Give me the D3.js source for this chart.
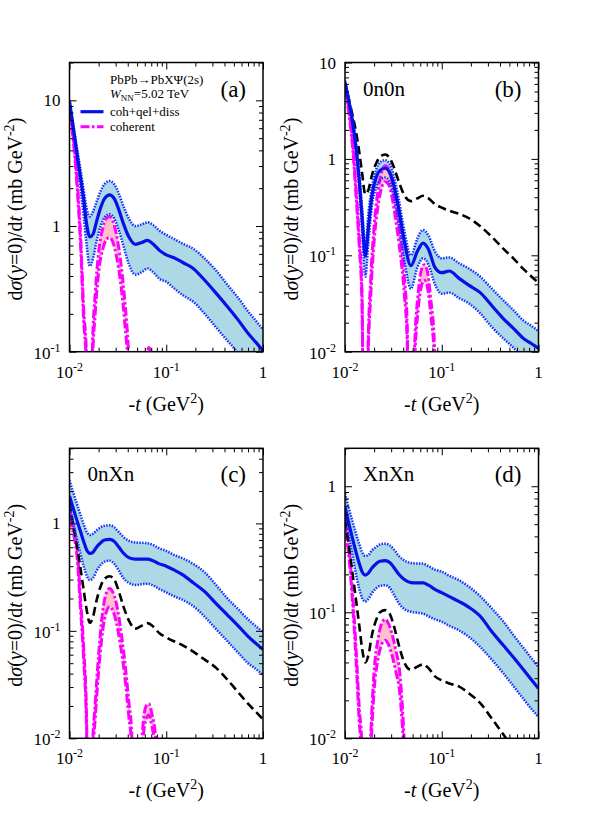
<!DOCTYPE html>
<html><head><meta charset="utf-8">
<script src="https://cdn.jsdelivr.net/npm/d3@7"></script>
<style>
body{margin:0;background:#fff}
svg text{font-family:"Liberation Serif","Times New Roman",serif;fill:#000}
</style>
</head><body>
<svg id="chart" width="608" height="829" font-family="Liberation Serif, serif"></svg>
<script>
// ---------- data ----------
const tGrid = [0.010,0.011,0.012,0.013,0.014,0.015,0.0162,0.0175,0.019,0.021,0.023,0.026,0.029,0.032,0.036,0.041,0.048,0.056,0.064,0.073,0.085,0.10,0.12,0.15,0.19,0.25,0.33,0.43,0.55,0.70,0.85,1.00];
const tCoh  = [0.0100,0.0110,0.0120,0.0130,0.0140,0.0150,0.0162,0.0172,0.0185,0.0200,0.0220,0.0240,0.0260,0.0280,0.0305,0.0335,0.0370,0.0410,0.0440,0.0470,0.0520,0.0570,0.0620,0.0660,0.0710,0.0770,0.0840,0.0900];

// (a) PbPb
const aTotal = [9.8,5.9,3.7,2.43,1.64,1.05,0.82,0.86,1.08,1.40,1.65,1.77,1.65,1.38,1.05,0.82,0.715,0.74,0.77,0.72,0.64,0.59,0.56,0.51,0.46,0.37,0.29,0.228,0.18,0.14,0.118,0.102];
const aTotalHi = [10.0,6.3,4.1,2.8,1.95,1.40,1.19,1.3,1.55,1.9,2.15,2.28,2.15,1.85,1.45,1.15,1.0,1.03,1.07,1.02,0.92,0.85,0.79,0.72,0.66,0.55,0.44,0.34,0.27,0.21,0.175,0.15];
const aTotalLo = [9.5,5.6,3.3,2.0,1.2,0.72,0.48,0.55,0.75,1.0,1.17,1.24,1.15,0.95,0.7,0.5,0.41,0.43,0.46,0.43,0.38,0.36,0.32,0.28,0.25,0.2,0.155,0.122,0.098,0.075,0.06,0.05];
const aCohHi = [8.7,5.0,2.3,0.85,0.22,0.09,1e-6,0.10,0.30,0.62,0.95,1.15,1.19,1.10,0.86,0.55,0.27,0.09,0.02,1e-6,0.01,0.05,0.085,0.108,0.09,0.05,0.012,1e-6];
const aCohLo = [8.2,4.6,2.0,0.72,0.18,0.07,1e-6,0.07,0.21,0.43,0.65,0.78,0.81,0.75,0.58,0.37,0.18,0.06,0.013,1e-6,0.007,0.034,0.058,0.074,0.062,0.034,0.008,1e-6];

// (b) 0n0n
const bTotal = [6.2,3.9,2.4,1.3,0.62,0.25,0.098,0.2,0.42,0.64,0.76,0.80,0.72,0.53,0.30,0.14,0.078,0.11,0.134,0.115,0.075,0.066,0.0687,0.058,0.049,0.041,0.03,0.0222,0.0175,0.0137,0.0121,0.0108];
const bTotalHi = [6.5,4.1,2.6,1.45,0.75,0.32,0.122,0.28,0.52,0.78,0.92,0.97,0.88,0.66,0.38,0.18,0.10,0.15,0.183,0.16,0.11,0.093,0.095,0.083,0.073,0.06,0.045,0.0344,0.027,0.021,0.0185,0.0163];
const bTotalLo = [5.9,3.7,2.2,1.15,0.5,0.18,0.06,0.14,0.33,0.5,0.6,0.64,0.57,0.41,0.22,0.09,0.045,0.075,0.093,0.08,0.05,0.04,0.041,0.036,0.0318,0.025,0.018,0.0138,0.011,0.0085,0.0072,0.0062];
const bDashed = [6.2,4.1,2.8,1.91,1.2,0.72,0.43,0.48,0.68,0.9,1.05,1.11,1.02,0.82,0.58,0.42,0.365,0.39,0.414,0.39,0.34,0.312,0.29,0.27,0.243,0.2,0.155,0.118,0.093,0.072,0.06,0.052];
const bCohHi = [5.6,3.2,1.5,0.50,0.16,0.04,1e-6,0.008,0.06,0.20,0.48,0.74,0.85,0.80,0.60,0.34,0.17,0.06,0.018,1e-6,0.009,0.04,0.072,0.08,0.068,0.035,0.012,1e-6];
const bCohLo = [5.2,2.9,1.3,0.42,0.13,0.03,1e-6,0.006,0.04,0.14,0.33,0.51,0.58,0.55,0.41,0.23,0.11,0.04,0.012,1e-6,0.006,0.027,0.049,0.055,0.047,0.024,0.008,1e-6];

// (c) 0nXn
const cTotal = [1.8,1.35,1.05,0.84,0.68,0.57,0.525,0.54,0.6,0.66,0.7,0.71,0.68,0.61,0.53,0.48,0.465,0.465,0.465,0.45,0.42,0.40,0.37,0.33,0.28,0.232,0.178,0.14,0.112,0.089,0.076,0.067];
const cTotalHi = [2.53,1.9,1.5,1.2,0.98,0.84,0.78,0.8,0.86,0.92,0.95,0.96,0.92,0.84,0.75,0.69,0.665,0.66,0.655,0.63,0.585,0.555,0.51,0.47,0.42,0.35,0.265,0.2,0.16,0.128,0.11,0.098];
const cTotalLo = [1.45,0.98,0.7,0.52,0.4,0.33,0.297,0.31,0.36,0.41,0.44,0.45,0.42,0.37,0.31,0.28,0.267,0.272,0.275,0.265,0.245,0.228,0.21,0.193,0.17,0.135,0.103,0.08,0.063,0.05,0.044,0.0388];
const cDashed = [1.55,0.93,0.6,0.38,0.24,0.16,0.119,0.135,0.19,0.26,0.305,0.322,0.3,0.24,0.17,0.125,0.105,0.112,0.118,0.11,0.095,0.087,0.08,0.073,0.064,0.054,0.045,0.035,0.027,0.021,0.0175,0.015];
const cCohHi = [1.3,0.95,0.58,0.20,0.07,0.016,1e-6,0.007,0.022,0.06,0.15,0.225,0.248,0.23,0.18,0.11,0.055,0.022,0.011,1e-6,0.002,0.012,0.02,0.021,0.017,0.011,0.003,1e-6];
const cCohLo = [1.1,0.8,0.48,0.16,0.055,0.012,1e-6,0.005,0.016,0.042,0.1,0.15,0.168,0.155,0.12,0.075,0.04,0.016,0.008,1e-6,0.0015,0.009,0.015,0.0165,0.013,0.008,0.002,1e-6];

// (d) XnXn
const dTotal = [0.685,0.5,0.38,0.3,0.245,0.21,0.197,0.205,0.225,0.243,0.254,0.257,0.248,0.227,0.2,0.182,0.172,0.171,0.171,0.164,0.152,0.143,0.133,0.122,0.11,0.093,0.07,0.055,0.044,0.035,0.029,0.0248];
const dTotalHi = [0.875,0.66,0.52,0.42,0.35,0.3,0.28,0.285,0.31,0.33,0.345,0.35,0.34,0.315,0.28,0.258,0.246,0.244,0.243,0.232,0.218,0.21,0.195,0.18,0.16,0.134,0.107,0.085,0.066,0.052,0.043,0.0368];
const dTotalLo = [0.59,0.4,0.28,0.2,0.155,0.13,0.122,0.128,0.142,0.155,0.162,0.164,0.156,0.138,0.118,0.106,0.101,0.099,0.0975,0.093,0.088,0.084,0.078,0.072,0.064,0.053,0.042,0.033,0.026,0.0205,0.017,0.0148];
const dDashed = [0.537,0.33,0.2,0.125,0.08,0.052,0.04,0.046,0.066,0.087,0.1,0.104,0.097,0.078,0.055,0.04,0.035,0.037,0.0387,0.036,0.031,0.0288,0.0272,0.0258,0.0228,0.019,0.0143,0.0108,0.0083,0.0063,0.0052,0.0045];
const dCohHi = [0.57,0.33,0.14,0.052,0.018,0.008,1e-6,0.002,0.011,0.034,0.062,0.082,0.088,0.082,0.068,0.05,0.032,0.009,0.002,1e-6,0.0002,0.001,0.0018,0.002,0.0017,0.001,0.0003,1e-6];
const dCohLo = [0.475,0.27,0.115,0.042,0.014,0.006,1e-6,0.0015,0.008,0.024,0.043,0.056,0.06,0.056,0.046,0.034,0.022,0.0065,0.0015,1e-6,0.00015,0.0007,0.0012,0.0014,0.0012,0.0007,0.0002,1e-6];

// axis / text content
const xDomain = [0.01, 1];
const xTickValues = [0.01, 0.1, 1];
const panelTags = ["(a)", "(b)", "(c)", "(d)"];
const panelNames = [null, "0n0n", "0nXn", "XnXn"];
const yDomains = [[0.1, 20], [0.01, 10], [0.01, 5], [0.01, 2]];
const yTickValues = [[10, 1, 0.1], [10, 1, 0.1, 0.01], [1, 0.1, 0.01], [1, 0.1, 0.01]];
const legendItems = ["coh+qel+diss", "coherent"];

// ---------- layout ----------
const layout = [
  {left: 69.5, top: 62.5, w: 193.5, h: 289.2},
  {left: 345,  top: 62.5, w: 193.5, h: 289.2},
  {left: 69.5, top: 448.3, w: 193.5, h: 290},
  {left: 345,  top: 448.3, w: 193.5, h: 290}
];
const seriesSets = [
  {tot: aTotal, hi: aTotalHi, lo: aTotalLo, dash: null,    cHi: aCohHi, cLo: aCohLo},
  {tot: bTotal, hi: bTotalHi, lo: bTotalLo, dash: bDashed, cHi: bCohHi, cLo: bCohLo},
  {tot: cTotal, hi: cTotalHi, lo: cTotalLo, dash: cDashed, cHi: cCohHi, cLo: cCohLo},
  {tot: dTotal, hi: dTotalHi, lo: dTotalLo, dash: dDashed, cHi: dCohHi, cLo: dCohLo}
];

const BLUE = "#0512e6", DOT = "#1430ff", MAG = "#ff00ff";
const svg = d3.select("#chart");

function logTicks(dom) {
  const out = [];
  const e0 = Math.floor(Math.log10(dom[0])), e1 = Math.ceil(Math.log10(dom[1]));
  for (let e = e0; e <= e1; e++) for (let k = 1; k <= 9; k++) {
    const v = k * Math.pow(10, e);
    if (v >= dom[0] * 0.999 && v <= dom[1] * 1.001) out.push({v, major: k === 1});
  }
  return out;
}
function expParts(v) {
  if (v === 1) return ["1", null];
  if (v === 10) return ["10", null];
  return ["10", String(Math.round(Math.log10(v)))];
}

layout.forEach((L, i) => {
  const S = seriesSets[i];
  const x = d3.scaleLog().domain(xDomain).range([L.left, L.left + L.w]);
  const y = d3.scaleLog().domain(yDomains[i]).range([L.top + L.h, L.top]);
  const g = svg.append("g");
  const clipId = "clip" + i;
  svg.append("clipPath").attr("id", clipId).append("rect")
    .attr("x", L.left).attr("y", L.top).attr("width", L.w).attr("height", L.h);
  const pg = g.append("g").attr("clip-path", `url(#${clipId})`);

  const ptsMain = arr => arr.map((v, j) => [tGrid[j], v]);
  const ptsCoh = arr => arr.map((v, j) => [tCoh[j], v]);
  const line = d3.line().x(d => x(d[0])).y(d => y(d[1])).curve(d3.curveMonotoneX);
  const area = d3.area().x(d => x(d.t)).y0(d => y(d.lo)).y1(d => y(d.hi)).curve(d3.curveMonotoneX);

  // bands
  pg.append("path").attr("d", area(tGrid.map((t, j) => ({t, lo: S.lo[j], hi: S.hi[j]}))))
    .attr("fill", "#add8e6");
  pg.append("path").attr("d", area(tCoh.map((t, j) => ({t, lo: S.cLo[j], hi: S.cHi[j]}))))
    .attr("fill", "#ffc0cb");

  // coherent lines
  [S.cHi, S.cLo].forEach(arr => pg.append("path").attr("d", line(ptsCoh(arr)))
    .attr("fill", "none").attr("stroke", MAG).attr("stroke-width", 3)
    .attr("stroke-dasharray", "9,2.5,2.5,2.5"));
  // black dashed
  if (S.dash) pg.append("path").attr("d", line(ptsMain(S.dash)))
    .attr("fill", "none").attr("stroke", "#000").attr("stroke-width", 2.6)
    .attr("stroke-dasharray", "8.5,4.5");
  // blue dotted edges
  [S.hi, S.lo].forEach(arr => pg.append("path").attr("d", line(ptsMain(arr)))
    .attr("fill", "none").attr("stroke", DOT).attr("stroke-width", 2.5)
    .attr("stroke-dasharray", "1.5,1.3"));
  // blue solid
  pg.append("path").attr("d", line(ptsMain(S.tot)))
    .attr("fill", "none").attr("stroke", BLUE).attr("stroke-width", 3.2);

  // ticks (inward on all four sides)
  const yt = logTicks(yDomains[i]), xt = logTicks(xDomain);
  const mk = (axisFn, scale, vals, len, tx, ty) => g.append("g")
    .attr("transform", `translate(${tx},${ty})`)
    .call(axisFn(scale).tickValues(vals).tickSize(-len).tickFormat(""))
    .call(s => s.select(".domain").remove())
    .call(s => s.selectAll("line").attr("stroke", "#000").attr("stroke-width", 1));
  [[true, 7], [false, 4]].forEach(([maj, len]) => {
    const yv = yt.filter(d => d.major === maj).map(d => d.v);
    const xv = xt.filter(d => d.major === maj).map(d => d.v);
    mk(d3.axisLeft, y, yv, len, L.left, 0);
    mk(d3.axisRight, y, yv, len, L.left + L.w, 0);
    mk(d3.axisBottom, x, xv, len, 0, L.top + L.h);
    mk(d3.axisTop, x, xv, len, 0, L.top);
  });

  // frame
  g.append("rect").attr("x", L.left).attr("y", L.top).attr("width", L.w).attr("height", L.h)
    .attr("fill", "none").attr("stroke", "#000").attr("stroke-width", 1.5);

  // y tick labels
  yTickValues[i].forEach(v => {
    const [b, e] = expParts(v);
    const tx = g.append("text").attr("x", L.left - 9).attr("y", y(v) + (e ? 7 : 6))
      .attr("text-anchor", "end").style("font-size", "17px").text(b);
    if (e) tx.append("tspan").attr("dy", -7).style("font-size", "12px").text(e);
  });
  // x tick labels
  xTickValues.forEach(v => {
    const [b, e] = expParts(v);
    const tx = g.append("text").attr("x", x(v)).attr("y", L.top + L.h + 26)
      .attr("text-anchor", "middle").style("font-size", "17px").text(b);
    if (e) tx.append("tspan").attr("dy", -7).style("font-size", "12px").text(e);
  });

  // x title
  const xt2 = g.append("text").attr("x", L.left + L.w / 2).attr("y", L.top + L.h + 59)
    .attr("text-anchor", "middle").style("font-size", "20px");
  xt2.append("tspan").text("-");
  xt2.append("tspan").style("font-style", "italic").text("t");
  xt2.append("tspan").text(" (GeV");
  xt2.append("tspan").attr("dy", -8).style("font-size", "14px").text("2");
  xt2.append("tspan").attr("dy", 8).text(")");

  // y title
  const yl = g.append("text")
    .attr("transform", `translate(${L.left - 47.5},${L.top + L.h / 2 + 2}) rotate(-90)`)
    .attr("text-anchor", "middle").style("font-size", "20px");
  yl.append("tspan").text("d");
  yl.append("tspan").style("font-style", "italic").text("σ");
  yl.append("tspan").text("(");
  yl.append("tspan").style("font-style", "italic").text("y");
  yl.append("tspan").text("=0)/d");
  yl.append("tspan").style("font-style", "italic").text("t");
  yl.append("tspan").text(" (mb GeV");
  yl.append("tspan").attr("dy", -8).style("font-size", "14px").text("-2");
  yl.append("tspan").attr("dy", 8).text(")");

  // panel tag and name
  g.append("text").attr("x", L.left + L.w - 17).attr("y", L.top + 34)
    .attr("text-anchor", "end").style("font-size", "23px").text(panelTags[i]);
  if (panelNames[i]) g.append("text").attr("x", L.left + 18).attr("y", L.top + 33)
    .style("font-size", "21px").text(panelNames[i]);

  // legend in (a)
  if (i === 0) {
    const lx = L.left + 40.5;
    g.append("text").attr("x", lx).attr("y", L.top + 21.5).style("font-size", "13px")
      .text("PbPb→PbXΨ(2s)");
    const w = g.append("text").attr("x", lx).attr("y", L.top + 35.5).style("font-size", "13px");
    w.append("tspan").style("font-style", "italic").text("W");
    w.append("tspan").attr("dy", 3).style("font-size", "9px").text("NN");
    w.append("tspan").attr("dy", -3).text("=5.02 TeV");
    const ly = [L.top + 49.2, L.top + 64.2];
    g.append("line").attr("x1", L.left + 11).attr("x2", L.left + 34).attr("y1", ly[0]).attr("y2", ly[0])
      .attr("stroke", BLUE).attr("stroke-width", 3.2);
    g.append("line").attr("x1", L.left + 11).attr("x2", L.left + 34).attr("y1", ly[1]).attr("y2", ly[1])
      .attr("stroke", MAG).attr("stroke-width", 3).attr("stroke-dasharray", "9,2.5,2.5,2.5");
    legendItems.forEach((s, k) => g.append("text").attr("x", lx).attr("y", ly[k] + 4.5)
      .style("font-size", "13px").text(s));
  }
});
</script>
</body></html>
